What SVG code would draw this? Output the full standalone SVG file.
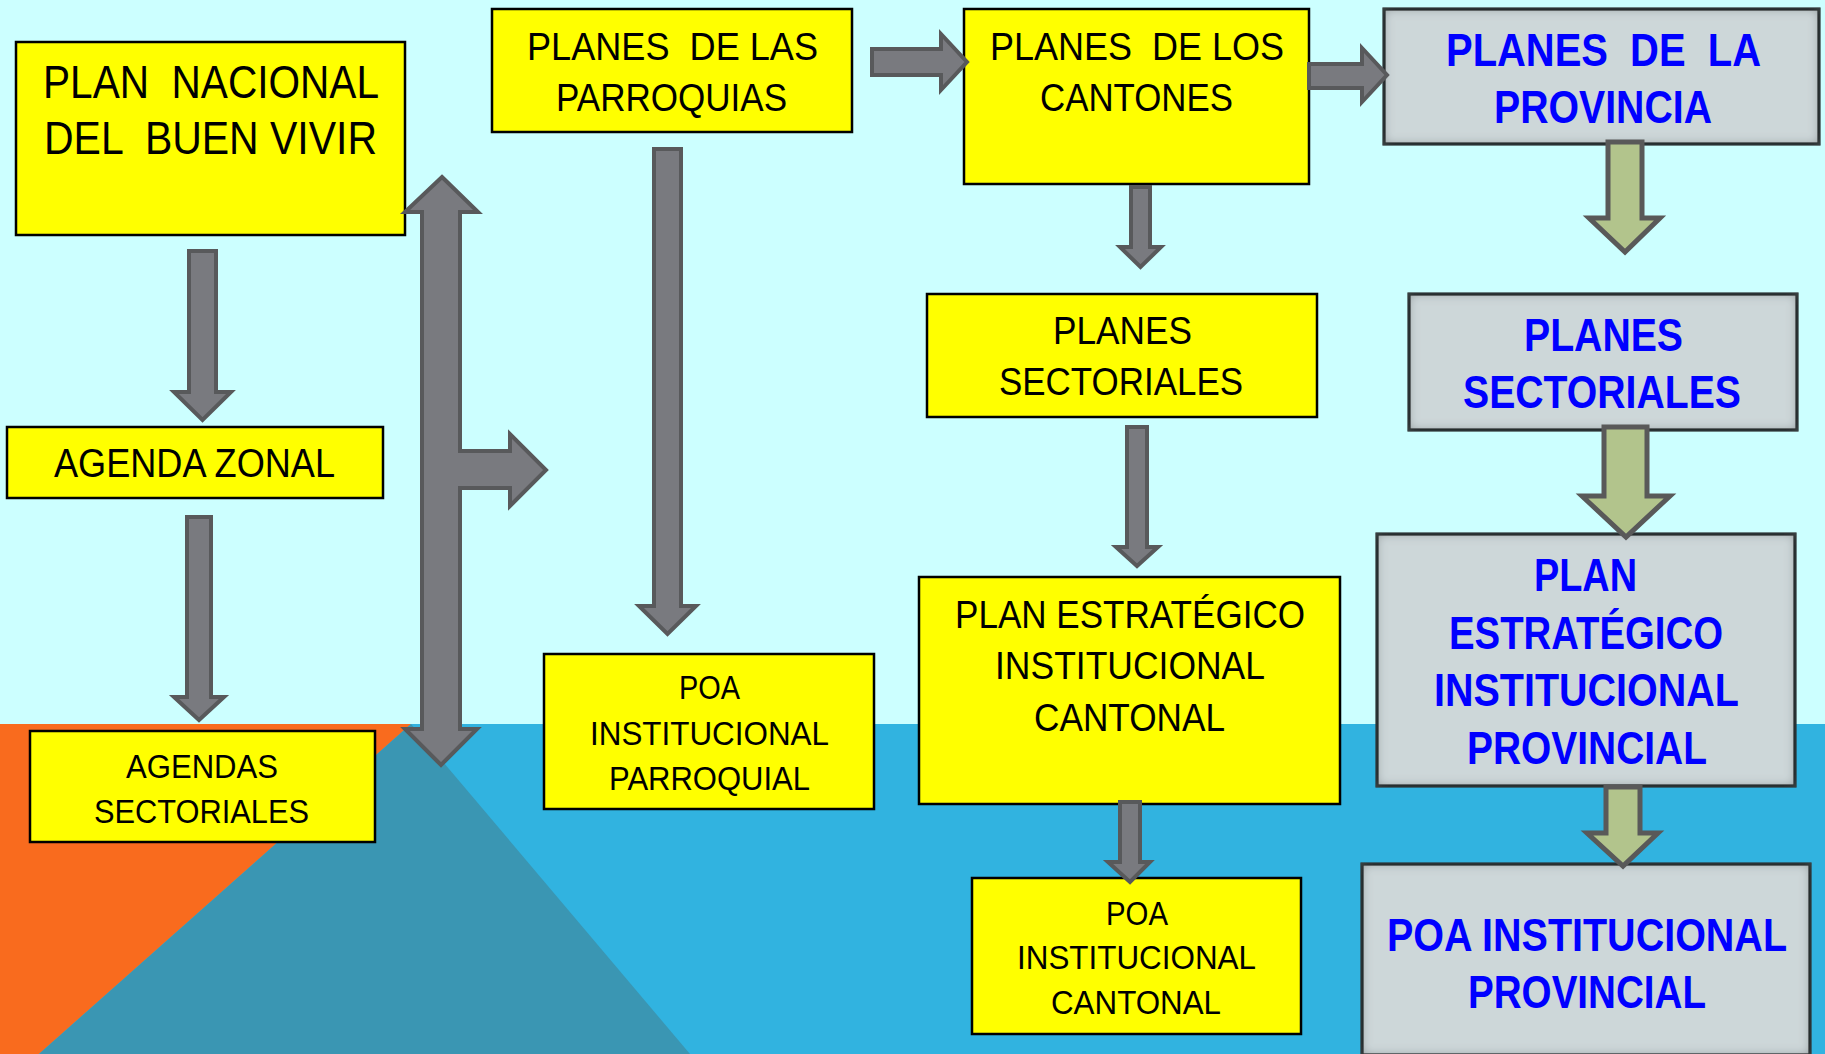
<svg xmlns="http://www.w3.org/2000/svg" width="1825" height="1054" viewBox="0 0 1825 1054">
<defs>
<style>
.y{fill:#FFFF00;stroke:#000;stroke-width:2.5}
.g{fill:#CDD7D9;stroke:#000;stroke-width:3}
.t{font-family:"Liberation Sans",Arial,sans-serif;fill:#000;white-space:pre}
.b{font-family:"Liberation Sans",Arial,sans-serif;font-weight:bold;fill:#0000FF;white-space:pre}
.ga{fill:#797A7F;stroke:#58595B;stroke-width:4;stroke-linejoin:miter}
.gr{fill:#B2C48C;stroke:#595959;stroke-width:5;stroke-linejoin:miter}
</style>
<filter id="inner" x="-5%" y="-10%" width="110%" height="120%">
<feComponentTransfer in="SourceAlpha" result="inv"><feFuncA type="table" tableValues="1 0"/></feComponentTransfer>
<feGaussianBlur in="inv" stdDeviation="6" result="bl"/>
<feFlood flood-color="#4a5456" flood-opacity="0.85"/>
<feComposite operator="in" in2="bl"/>
<feComposite operator="in" in2="SourceAlpha" result="sh"/>
<feMerge><feMergeNode in="SourceGraphic"/><feMergeNode in="sh"/></feMerge>
</filter>
</defs>
<g id="background">
<rect x="0" y="0" width="1825" height="1054" fill="#CCFFFF"/>
<rect x="0" y="724" width="1825" height="330" fill="#31B3E0"/>
<polygon points="0,724 411,724 39,1054 0,1054" fill="#F96B1E"/>
<polygon points="411,724 690,1054 39,1054" fill="#3A96B3"/>
</g>
<g id="n-pnbv">
<rect class="y" x="16" y="42" width="389" height="193"/>
<text class="t" font-size="46" x="43" y="98" textLength="336" lengthAdjust="spacingAndGlyphs">PLAN  NACIONAL</text>
<text class="t" font-size="46" x="44" y="154" textLength="333" lengthAdjust="spacingAndGlyphs">DEL  BUEN VIVIR</text>
</g>
<g id="n-agenda-zonal">
<rect class="y" x="7" y="427" width="376" height="71"/>
<text class="t" font-size="40" x="54" y="477" textLength="281" lengthAdjust="spacingAndGlyphs">AGENDA ZONAL</text>
</g>
<g id="n-agendas-sectoriales">
<rect class="y" x="30" y="731" width="345" height="111"/>
<text class="t" font-size="34" x="126" y="778" textLength="152" lengthAdjust="spacingAndGlyphs">AGENDAS</text>
<text class="t" font-size="34" x="94" y="823" textLength="215" lengthAdjust="spacingAndGlyphs">SECTORIALES</text>
</g>
<g id="n-parroquias">
<rect class="y" x="492" y="9" width="360" height="123"/>
<text class="t" font-size="39" x="527" y="60" textLength="291" lengthAdjust="spacingAndGlyphs">PLANES  DE LAS</text>
<text class="t" font-size="39" x="556" y="111" textLength="231" lengthAdjust="spacingAndGlyphs">PARROQUIAS</text>
</g>
<g id="n-poa-parroquial">
<rect class="y" x="544" y="654" width="330" height="155"/>
<text class="t" font-size="33" x="679" y="699" textLength="61" lengthAdjust="spacingAndGlyphs">POA</text>
<text class="t" font-size="33" x="590" y="745" textLength="239" lengthAdjust="spacingAndGlyphs">INSTITUCIONAL</text>
<text class="t" font-size="33" x="609" y="790" textLength="201" lengthAdjust="spacingAndGlyphs">PARROQUIAL</text>
</g>
<g id="n-cantones">
<rect class="y" x="964" y="9" width="345" height="175"/>
<text class="t" font-size="39" x="990" y="60" textLength="294" lengthAdjust="spacingAndGlyphs">PLANES  DE LOS</text>
<text class="t" font-size="39" x="1040" y="111" textLength="193" lengthAdjust="spacingAndGlyphs">CANTONES</text>
</g>
<g id="n-planes-sectoriales-c">
<rect class="y" x="927" y="294" width="390" height="123"/>
<text class="t" font-size="38" x="1053" y="344" textLength="139" lengthAdjust="spacingAndGlyphs">PLANES</text>
<text class="t" font-size="38" x="999" y="395" textLength="244" lengthAdjust="spacingAndGlyphs">SECTORIALES</text>
</g>
<g id="n-peic">
<rect class="y" x="919" y="577" width="421" height="227"/>
<text class="t" font-size="38" x="955" y="628" textLength="350" lengthAdjust="spacingAndGlyphs">PLAN ESTRATÉGICO</text>
<text class="t" font-size="38" x="995" y="679" textLength="270" lengthAdjust="spacingAndGlyphs">INSTITUCIONAL</text>
<text class="t" font-size="38" x="1034" y="731" textLength="191" lengthAdjust="spacingAndGlyphs">CANTONAL</text>
</g>
<g id="n-poa-cantonal">
<rect class="y" x="972" y="878" width="329" height="156"/>
<text class="t" font-size="33" x="1106" y="925" textLength="62" lengthAdjust="spacingAndGlyphs">POA</text>
<text class="t" font-size="33" x="1017" y="969" textLength="239" lengthAdjust="spacingAndGlyphs">INSTITUCIONAL</text>
<text class="t" font-size="33" x="1051" y="1014" textLength="170" lengthAdjust="spacingAndGlyphs">CANTONAL</text>
</g>
<g id="n-provincia">
<rect class="g" filter="url(#inner)" x="1384" y="9" width="435" height="135"/>
<text class="b" font-size="46" x="1446" y="66" textLength="315" lengthAdjust="spacingAndGlyphs">PLANES  DE  LA</text>
<text class="b" font-size="46" x="1494" y="123" textLength="218" lengthAdjust="spacingAndGlyphs">PROVINCIA</text>
</g>
<g id="n-planes-sectoriales-p">
<rect class="g" filter="url(#inner)" x="1409" y="294" width="388" height="136"/>
<text class="b" font-size="46" x="1524" y="351" textLength="159" lengthAdjust="spacingAndGlyphs">PLANES</text>
<text class="b" font-size="46" x="1463" y="408" textLength="278" lengthAdjust="spacingAndGlyphs">SECTORIALES</text>
</g>
<g id="n-peip">
<rect class="g" filter="url(#inner)" x="1377" y="534" width="418" height="252"/>
<text class="b" font-size="46" x="1534" y="591" textLength="103" lengthAdjust="spacingAndGlyphs">PLAN</text>
<text class="b" font-size="46" x="1449" y="649" textLength="274" lengthAdjust="spacingAndGlyphs">ESTRATÉGICO</text>
<text class="b" font-size="46" x="1434" y="706" textLength="305" lengthAdjust="spacingAndGlyphs">INSTITUCIONAL</text>
<text class="b" font-size="46" x="1467" y="764" textLength="240" lengthAdjust="spacingAndGlyphs">PROVINCIAL</text>
</g>
<g id="n-poa-provincial">
<rect class="g" filter="url(#inner)" x="1362" y="864" width="448" height="191"/>
<text class="b" font-size="46" x="1387" y="951" textLength="400" lengthAdjust="spacingAndGlyphs">POA INSTITUCIONAL</text>
<text class="b" font-size="46" x="1468" y="1008" textLength="238" lengthAdjust="spacingAndGlyphs">PROVINCIAL</text>
</g>
<g id="connectors">
<polygon class="ga" points="189,251 216,251 216,392 231,392 202.5,420 174,392 189,392"/>
<polygon class="ga" points="187,517 211,517 211,697 224,697 199,720 174,697 187,697"/>
<polygon class="ga" points="442,177 478,212 460,212 460,451 510,451 510,434 546,470 510,506 510,488 460,488 460,729 477,729 441,765 405,729 422,729 422,212 405,212"/>
<polygon class="ga" points="654,149 681,149 681,606 696,606 667.5,634 639,606 654,606"/>
<polygon class="ga" points="872,49 941,49 941,34 967,62 941,90 941,75 872,75"/>
<polygon class="ga" points="1309,64 1362,64 1362,48 1387,75 1362,102 1362,88 1309,88"/>
<polygon class="ga" points="1131,187 1150,187 1150,247 1161,247 1140.5,267 1120,247 1131,247"/>
<polygon class="ga" points="1127,427 1147,427 1147,547 1158,547 1137,566 1116,547 1127,547"/>
<polygon class="ga" points="1120,802 1140,802 1140,862 1150,862 1130,882 1108,862 1120,862"/>
<polygon class="gr" points="1608,142 1642,142 1642,218 1660,218 1625,252 1589,218 1608,218"/>
<polygon class="gr" points="1604,427 1647,427 1647,496 1670,496 1626,537 1582,496 1604,496"/>
<polygon class="gr" points="1606,787 1640,787 1640,833 1658,833 1623,866 1587,833 1606,833"/>
</g>
</svg>
